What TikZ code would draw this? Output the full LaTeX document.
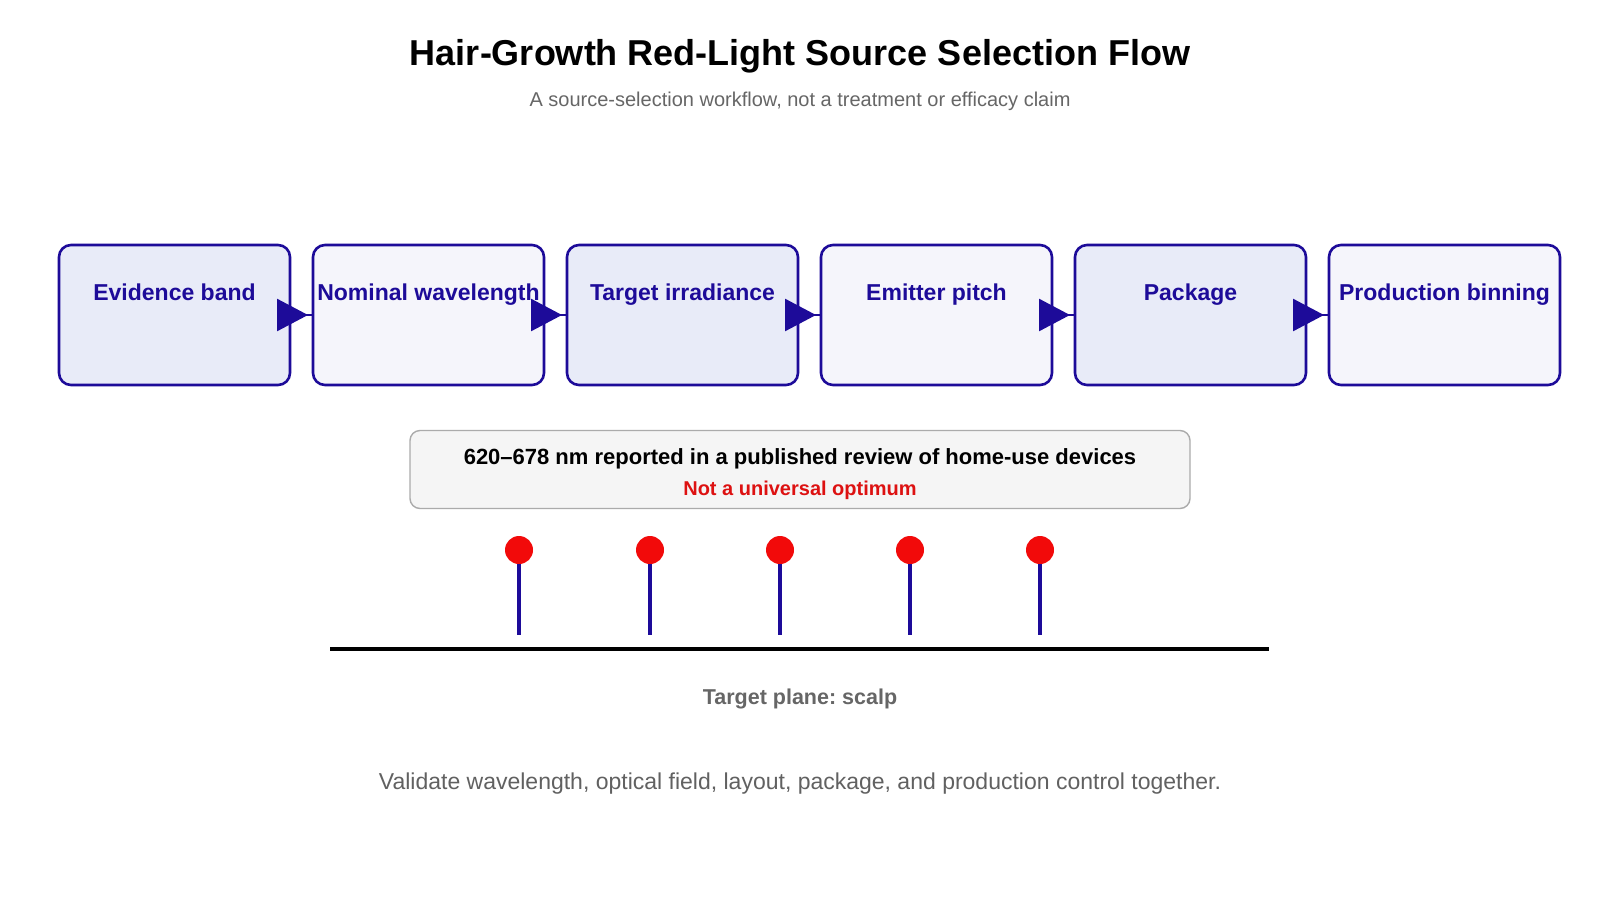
\documentclass[tikz,border=0pt]{standalone}
\usepackage{fontspec}
\setmainfont{Liberation Sans}
\usetikzlibrary{arrows.meta,calc}
\frenchspacing
\definecolor{flowc}{HTML}{1D0B99}
\definecolor{fillA}{HTML}{E8EBF8}
\definecolor{fillB}{HTML}{F5F5FB}
\definecolor{pinred}{HTML}{F20A0A}
\definecolor{subgray}{HTML}{666666}
\definecolor{notered}{HTML}{DD1111}
\tikzset{
  flowbox/.style={draw=flowc, line width=2.6pt, rounded corners=12pt, minimum width=231pt, minimum height=140pt, inner sep=0pt, outer sep=0pt},
  flowlabel/.style={font=\fontsize{23}{26}\selectfont\bfseries, text=flowc, inner sep=0pt, anchor=base},
  flowline/.style={draw=flowc, line width=2.6pt},
  flowtip/.style={flowline, -{Triangle[length=31pt,width=32pt]}, shorten >=5pt},
  pinhead/.style={circle, fill=pinred, minimum size=28pt, inner sep=0pt},
  stem/.style={draw=flowc, line width=3.6pt},
}
\begin{document}
\begin{tikzpicture}[x=1pt,y=-1pt]
\useasboundingbox[fill=white] (0,0) rectangle (1600,900);
% title
\node[font=\fontsize{36}{40}\selectfont\bfseries] (title) at (800,56) {Hair-Growth Red-Light Source Selection Flow};
\node[font=\fontsize{20}{23}\selectfont, text=subgray] (sub) at (800,101) {A source-selection workflow, not a treatment or efficacy claim};
% boxes
\node[flowbox, fill=fillA] (b1) at (174.5,315) {};
\node[flowbox, fill=fillB] (b2) at (428.5,315) {};
\node[flowbox, fill=fillA] (b3) at (682.5,315) {};
\node[flowbox, fill=fillB] (b4) at (936.5,315) {};
\node[flowbox, fill=fillA] (b5) at (1190.5,315) {};
\node[flowbox, fill=fillB] (b6) at (1444.5,315) {};
\node[flowlabel] (l1) at (174.5,300) {Evidence band};
\node[flowlabel] (l2) at (428.5,300) {Nominal wavelength};
\node[flowlabel] (l3) at (682.5,300) {Target irradiance};
\node[flowlabel] (l4) at (936.5,300) {Emitter pitch};
\node[flowlabel] (l5) at (1190.5,300) {Package};
\node[flowlabel] (l6) at (1444.5,300) {Production binning};
% arrows
\foreach \a/\b in {b1/b2,b2/b3,b3/b4,b4/b5,b5/b6}{
  \draw[flowline] (\a.east) -- (\b.west);
  \draw[flowtip] (\a.east) -- (\b.west);
}
% callout
\node[draw=black!33, fill=black!4, line width=1.4pt, rounded corners=10pt, minimum width=780pt, minimum height=78pt] (note) at (800,469.5) {};
\node[font=\fontsize{22}{26}\selectfont\bfseries, inner sep=0pt] (n1) at (800,459) {620–678 nm reported in a published review of home-use devices};
\node[font=\fontsize{20}{24}\selectfont\bfseries, text=notered, inner sep=0pt] (n2) at (800,490) {Not a universal optimum};
% pins
\foreach \i/\x in {1/519,2/650,3/780,4/910,5/1040}{
  \coordinate (s\i) at (\x,635);
  \draw[stem] (\x,550) -- (s\i);
  \node[pinhead] (p\i) at (\x,550) {};
}
% plane
\coordinate (pl) at (330,649);
\coordinate (pr) at (1269,649);
\draw[line width=3.6pt] (pl) -- (pr);
\node[font=\fontsize{21.5}{25}\selectfont\bfseries, text=subgray] (plane) at (800,699) {Target plane: scalp};
\node[font=\fontsize{23}{27}\selectfont, text=black!62] (foot) at (800,784) {Validate wavelength, optical field, layout, package, and production control together.};
\end{tikzpicture}
\end{document}
